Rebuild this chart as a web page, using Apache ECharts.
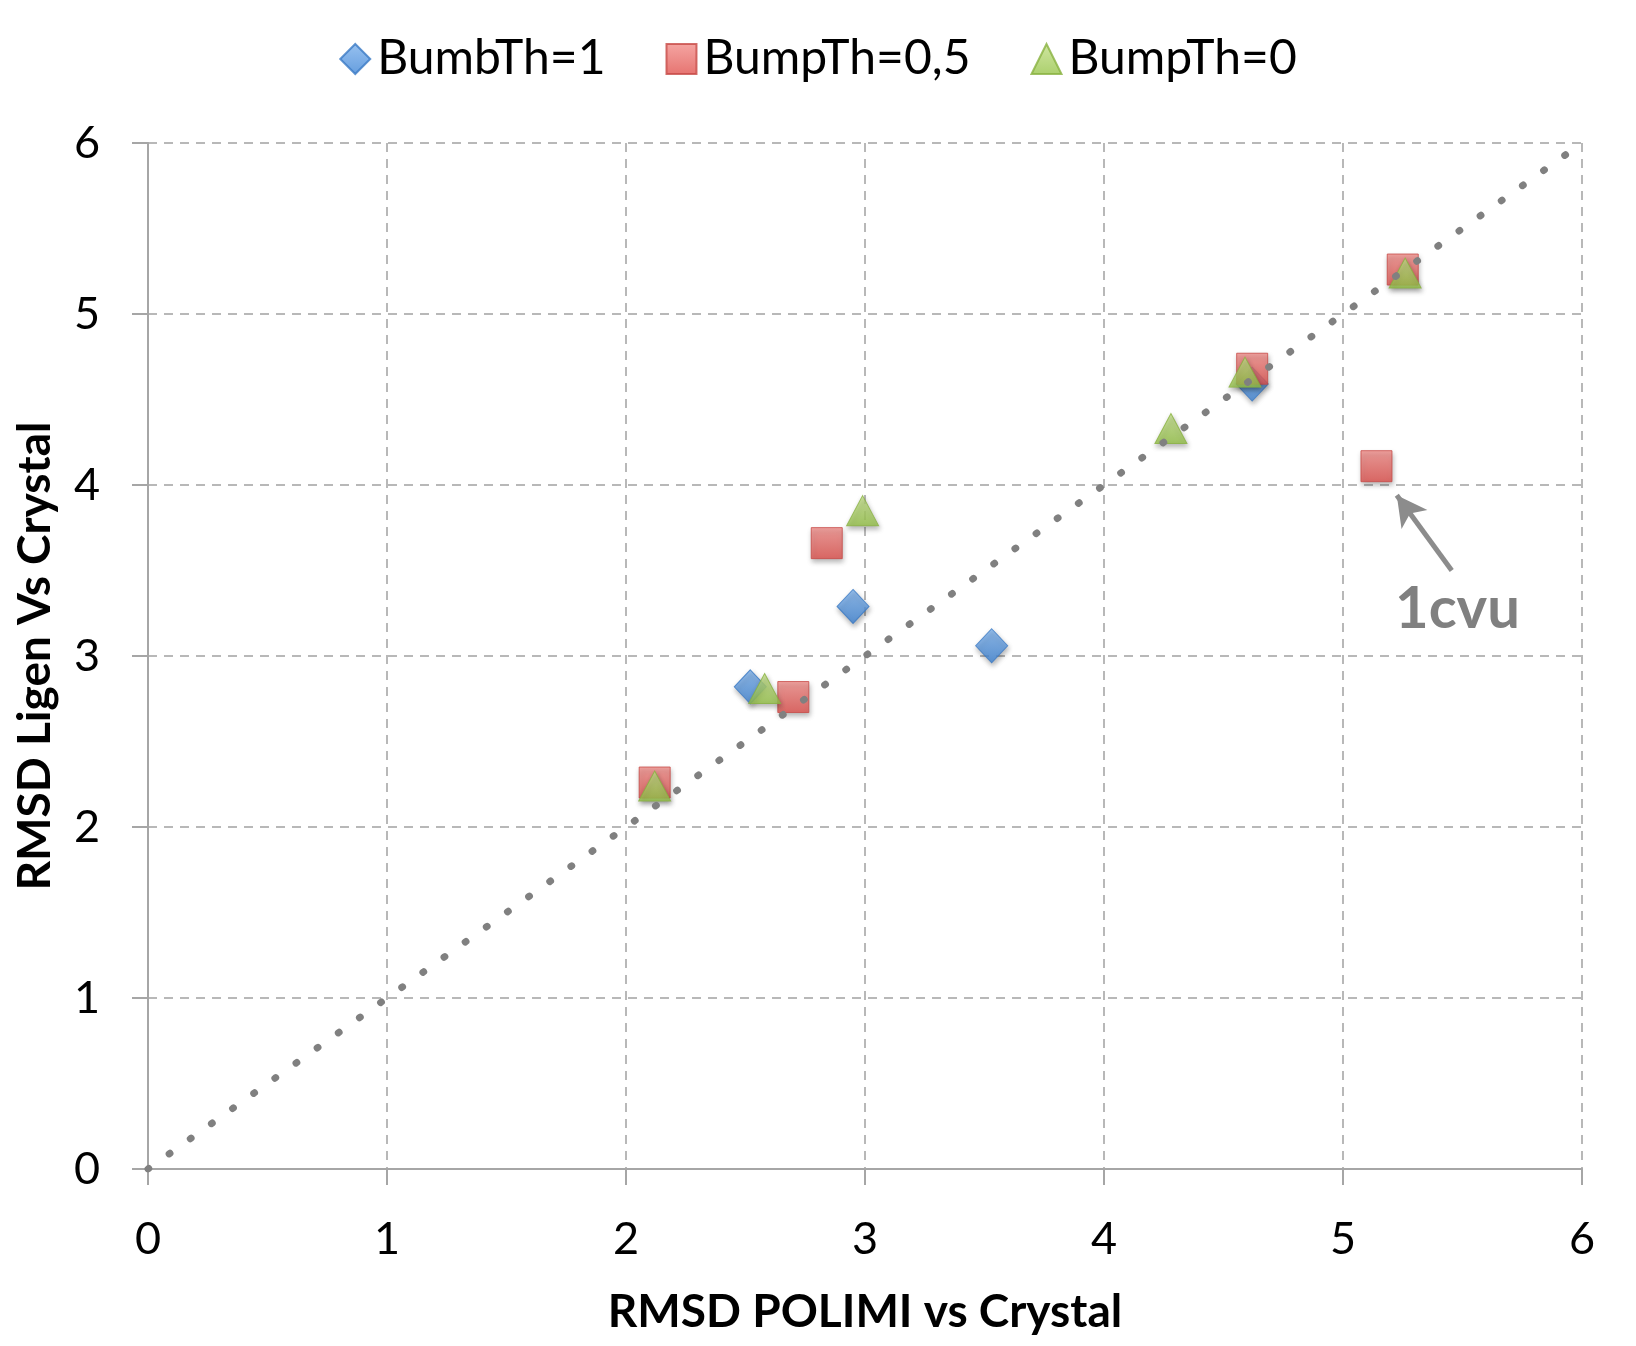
<!DOCTYPE html>
<html>
<head>
<meta charset="utf-8">
<script src="https://cdn.jsdelivr.net/npm/echarts@6/dist/echarts.min.js"></script>
<style>
  html, body { margin: 0; padding: 0; background: #fff; }
  #chart { width: 1636px; height: 1346px; }
</style>
</head>
<body>
<div id="chart"></div>
<script>
// values
var seriesNames = ['BumbTh=1', 'BumpTh=0,5', 'BumpTh=0'];
var blueX = [2.52, 2.95, 3.53, 4.62];
var blueY = [2.82, 3.29, 3.06, 4.59];
var redX = [2.12, 2.70, 2.84, 4.62, 5.14, 5.25];
var redY = [2.26, 2.76, 3.66, 4.68, 4.11, 5.26];
var greenX = [2.12, 2.58, 2.99, 4.28, 4.59, 5.26];
var greenY = [2.24, 2.81, 3.85, 4.33, 4.66, 5.24];
var diagX = [0, 6];
var diagY = [0, 6];
var axisTicks = [0, 1, 2, 3, 4, 5, 6];
var noteFrom = [5.455, 3.50];
var noteTo = [5.225, 3.94];

var font = 'Lato, "Open Sans", sans-serif';

var pairs = function(xs, ys) {
	return xs.map(function(x, i) { return [x, ys[i]]; });
};

var grad = function(top, bottom) {
	return new echarts.graphic.LinearGradient(0, 0, 0, 1, [
		{ offset: 0, color: top },
		{ offset: 1, color: bottom }
	]);
};

var drawChart = function() {
	var myChart = echarts.init(document.getElementById('chart'));
	var axisCommon = {
		type: 'value',
		min: axisTicks[0],
		max: axisTicks[axisTicks.length - 1],
		interval: 1,
		axisLine: { show: true, onZero: false, lineStyle: { color: '#a6a6a6', width: 2 } },
		axisTick: { show: true, length: 16, lineStyle: { color: '#a6a6a6', width: 2 } },
		splitLine: { show: true, lineStyle: { color: '#b8b8b8', width: 2, type: [9, 7] } },
		axisLabel: { color: '#000', fontSize: 45, fontFamily: font },
		nameLocation: 'middle',
		nameTextStyle: { color: '#000', fontSize: 46, fontWeight: 'bold', fontFamily: font }
	};
	var shadow = {
		shadowBlur: 5,
		shadowColor: 'rgba(0,0,0,0.35)',
		shadowOffsetY: 3,
		shadowOffsetX: 1
	};

	var option = {
		animation: false,
		backgroundColor: '#fff',
		grid: { left: 148, right: 54, top: 143, bottom: 177 },
		legend: {
			data: seriesNames,
			top: 30,
			left: 'center',
			itemWidth: 30,
			itemHeight: 30,
			itemGap: 60,
			textStyle: { color: '#000', fontSize: 48, fontFamily: font, padding: [0, 0, 0, 2] }
		},
		xAxis: Object.assign({}, axisCommon, {
			name: 'RMSD POLIMI vs Crystal',
			nameGap: 120,
			axisLabel: Object.assign({}, axisCommon.axisLabel, { margin: 48 })
		}),
		yAxis: Object.assign({}, axisCommon, {
			name: 'RMSD Ligen Vs Crystal',
			nameGap: 90,
			axisLabel: Object.assign({}, axisCommon.axisLabel, { margin: 48, padding: [14, 0, 0, 0] })
		}),
		series: [
			{
				name: seriesNames[0],
				type: 'scatter',
				symbol: 'diamond',
				symbolSize: [32, 34],
				data: pairs(blueX, blueY),
				itemStyle: Object.assign({ color: grad('#7eb2ec', '#3f85d6'), borderColor: '#3a79c4', borderWidth: 1 }, shadow),
				z: 2
			},
			{
				name: seriesNames[1],
				type: 'scatter',
				symbol: 'rect',
				symbolSize: 31,
				data: pairs(redX, redY),
				itemStyle: Object.assign({ color: grad('#f28f8b', '#e0514d'), borderColor: '#c74a46', borderWidth: 1 }, shadow),
				z: 3
			},
			{
				name: seriesNames[2],
				type: 'scatter',
				symbol: 'triangle',
				symbolSize: [32, 30],
				data: pairs(greenX, greenY),
				itemStyle: Object.assign({ color: grad('#c4e08a', '#97c449'), borderColor: '#88b240', borderWidth: 1 }, shadow),
				z: 4
			},
			{
				// dotted y = x reference line, drawn above the markers
				name: 'diag',
				type: 'line',
				data: pairs(diagX, diagY),
				showSymbol: false,
				silent: true,
				lineStyle: { color: '#808080', width: 7, type: [1, 25], cap: 'round' },
				z: 5,
				markLine: {
					silent: true,
					symbol: ['none', 'arrow'],
					symbolSize: [24, 30],
					label: { show: false },
					lineStyle: { color: '#8c8c8c', width: 5, type: 'solid' },
					data: [[{ coord: noteFrom }, { coord: noteTo }]]
				}
			}
		],
		graphic: [
			{
				type: 'text',
				left: 1395,
				top: 580,
				z: 10,
				style: {
					text: '1cvu',
					fill: '#808080',
					font: 'bold 58px ' + font,
					shadowBlur: 3,
					shadowColor: 'rgba(0,0,0,0.25)',
					shadowOffsetY: 1
				}
			}
		]
	};
	myChart.setOption(option);
};

drawChart();
</script>
</body>
</html>
